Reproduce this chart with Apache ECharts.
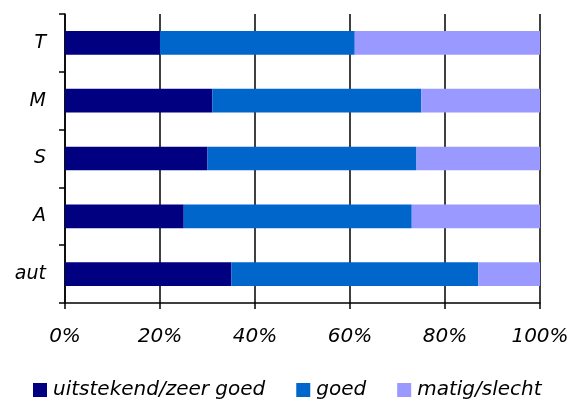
<!DOCTYPE html>
<html>
<head>
<meta charset="utf-8">
<script src="https://cdn.jsdelivr.net/npm/echarts@6/dist/echarts.min.js"></script>
<style>html,body{margin:0;padding:0;background:#fff}#c{width:572px;height:401px}</style>
</head>
<body>
<div id="c"></div>
<script>
const categories = ['T', 'M', 'S', 'A', 'aut'];
const seriesNames = ['uitstekend/zeer goed', 'goed', 'matig/slecht'];
const excellent = [20, 31, 30, 25, 35];
const good = [41, 44, 44, 48, 52];
const poor = [39, 25, 26, 27, 13];
const tickValues = [0, 20, 40, 60, 80, 100];

const colors = ['#000080', '#0066CC', '#9999FF'];
const font = 'DejaVu Sans';
const chart = echarts.init(document.getElementById('c'));
const mk = (name, data, i) => ({
  name, type: 'bar', stack: 'total', data, barWidth: '41%',
  itemStyle: { color: colors[i] }, emphasis: { disabled: true }
});
chart.setOption({
  animation: false,
  backgroundColor: '#fff',
  grid: { left: 65, right: 32, top: 14, bottom: 98, containLabel: false },
  xAxis: {
    type: 'value', min: 0, max: 100, interval: 20,
    axisLine: { show: true, lineStyle: { color: '#000', width: 1.5 } },
    axisTick: { show: true, length: 6, lineStyle: { color: '#000', width: 1.5 } },
    splitLine: { show: true, lineStyle: { color: '#000', width: 1.5 } },
    axisLabel: { formatter: v => tickValues.includes(v) ? v + '%' : '', fontFamily: font, fontStyle: 'italic', fontSize: 20, color: '#000', margin: 24 }
  },
  yAxis: {
    type: 'category', data: categories, inverse: true,
    axisLine: { show: true, lineStyle: { color: '#000', width: 1.5 } },
    axisTick: { show: true, length: 6, alignWithLabel: false, lineStyle: { color: '#000', width: 1.5 } },
    axisLabel: { fontFamily: font, fontStyle: 'italic', fontSize: 19, color: '#000', margin: 19 },
    splitLine: { show: false }
  },
  legend: {
    left: 33, top: 380, padding: 0, itemWidth: 14, itemHeight: 14, itemGap: 31,
    icon: 'rect',
    textStyle: { fontFamily: font, fontStyle: 'italic', fontSize: 20, color: '#000', padding: [0, 0, 0, 1] },
    data: seriesNames
  },
  series: [mk(seriesNames[0], excellent, 0), mk(seriesNames[1], good, 1), mk(seriesNames[2], poor, 2)]
});
</script>
</body>
</html>
